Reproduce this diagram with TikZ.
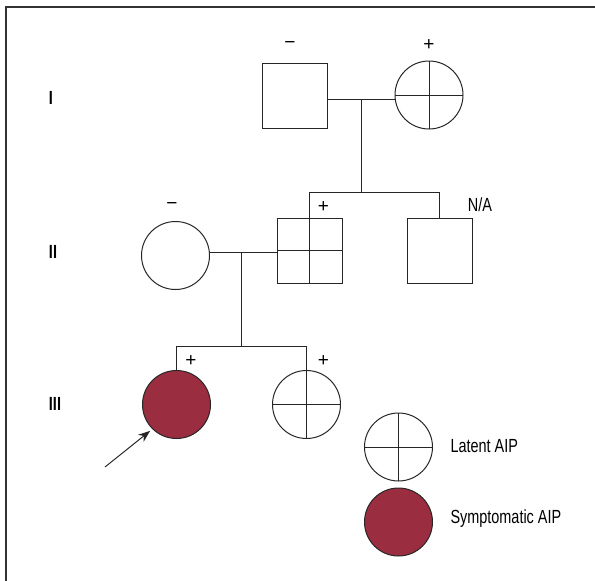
\documentclass[tikz,border=0pt]{standalone}
\usepackage{fontspec}
\setmainfont{Liberation Sans}[FakeStretch=0.76]
\newfontfamily\symfont{Liberation Sans}
\usetikzlibrary{arrows.meta,calc}
\definecolor{aipred}{RGB}{155,45,64}
\begin{document}
\begin{tikzpicture}[x=1pt,y=-1pt,
  line width=1pt,
  male/.style={draw=black!85,minimum size=65pt,inner sep=0pt,shape=rectangle},
  female/.style={draw=black!85,circle,minimum size=68pt,inner sep=0pt},
  affected/.style={female,fill=aipred},
  crossed/.style={path picture={\draw[black!85,line width=1pt] (path picture bounding box.north) -- (path picture bounding box.south) (path picture bounding box.west) -- (path picture bounding box.east);}},
  lbl/.style={font=\symfont\fontsize{19}{20}\selectfont,inner sep=0pt},
  nalbl/.style={font=\fontsize{19}{20}\selectfont,inner sep=0pt},
  gen/.style={font=\fontsize{19}{20}\selectfont\bfseries,inner sep=0pt},
  legtxt/.style={font=\fontsize{19}{20}\selectfont,inner sep=0pt,anchor=west},
  conn/.style={draw=black!85,line width=1pt}
]
\useasboundingbox (0,0) rectangle (595,581);
\draw[black!80,line width=2pt] (6,581) -- (6,7) -- (595,7);

% generation labels
\node[gen] (gI) at (51,98) {I};
\node[gen] (gII) at (53,252) {II};
\node[gen] (gIII) at (55,404) {III};

% generation I
\node[male] (i1) at (295,95.5) {};
\node[female,crossed] (i2) at (429,95) {};
\node[lbl] (i1s) at (290,45) {−};
\node[lbl] (i2s) at (429,45) {+};
\coordinate (m1) at (361.5,99);
\coordinate (s1) at (361.5,192);
\draw[conn] (i1.east |- m1) -- (i2.west |- m1);
\draw[conn] (m1) -- (s1);

% generation II
\node[female] (ii1) at (175.5,255.5) {};
\node[male,crossed] (ii2) at (309.5,250.5) {};
\node[male] (ii3) at (439.5,250.5) {};
\node[lbl] (ii1s) at (172,206) {−};
\node[lbl] (ii2s) at (323.5,207) {+};
\node[nalbl] (ii3s) at (480,205) {N/A};
\coordinate (s1l) at (ii2.north |- s1);
\coordinate (s1r) at (ii3.north |- s1);
\draw[conn] (ii2.north) -- (s1l) -- (s1r) -- (ii3.north);
\coordinate (m2) at (241,252);
\coordinate (s2) at (241,346);
\draw[conn] (ii1.east |- m2) -- (ii2.west |- m2);
\draw[conn] (m2) -- (s2);

% generation III
\node[affected] (iii1) at (176.5,404.5) {};
\node[female,crossed] (iii2) at (306.5,404.5) {};
\node[lbl] (iii1s) at (191,361.5) {+};
\node[lbl] (iii2s) at (323.5,361.5) {+};
\coordinate (s2l) at (iii1.north |- s2);
\coordinate (s2r) at (iii2.north |- s2);
\draw[conn] (iii1.north) -- (s2l) -- (s2r) -- (iii2.north);

% proband arrow
\coordinate (pa) at (105,467);
\coordinate (pt) at ($(iii1.center)!1.08!(iii1.south west)$);
\draw[conn,-{Stealth[length=12pt,width=9pt]}] (pa) -- (pt);

% legend
\node[female,crossed] (lg1) at (398.5,447) {};
\node[affected] (lg2) at (398.5,522) {};
\node[legtxt] (lt1) at (450,446.5) {Latent AIP};
\node[legtxt] (lt2) at (450,518.5) {Symptomatic AIP};
\end{tikzpicture}
\end{document}
